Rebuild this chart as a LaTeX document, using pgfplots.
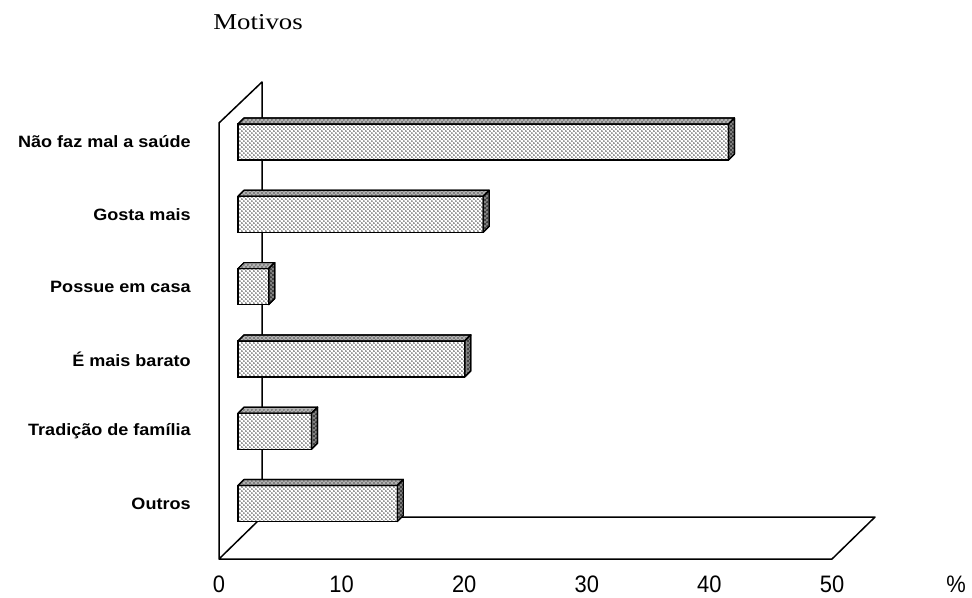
\documentclass[border=0pt]{standalone}
\usepackage{pgfplots}
\pgfplotsset{compat=1.18}
\usepackage{pgfplotstable}
\usepackage{fontspec}
\usetikzlibrary{patterns}
\setmainfont{Liberation Serif}
\newfontfamily\lblfont[FakeStretch=1.1]{Liberation Sans}
\newfontfamily\tickfont[FakeStretch=0.92]{Liberation Sans}
\newfontfamily\titlefont[FakeStretch=1.18]{Liberation Serif}

% stipple for the bar faces
\pgfdeclarepatternformonly{finedots}{\pgfqpoint{0pt}{0pt}}{\pgfqpoint{2.2pt}{2.2pt}}{\pgfqpoint{2.2pt}{2.2pt}}{%
  \pgfpathcircle{\pgfqpoint{0.55pt}{0.55pt}}{0.45pt}%
  \pgfpathcircle{\pgfqpoint{1.65pt}{1.65pt}}{0.45pt}%
  \pgfusepath{fill}}

\pgfplotstableread{
y val
5 40
4 20
3 2.5
2 18.5
1 6
0 13
}\motivos

\tikzset{
  topface/.style={fill=black!30, draw=black, line width=0.6pt, line join=round, mark=none,
    postaction={pattern=finedots, pattern color=black!70}},
  sideface/.style={fill=black!50, draw=black, line width=0.6pt, line join=round, mark=none,
    postaction={pattern=finedots, pattern color=black}},
}

\begin{document}
\begin{tikzpicture}
% floor and wall (1 unit = 1 px of the reference)
\begin{scope}[x=0.5pt,y=-0.5pt]
\path (0,0) rectangle (972,598);
\draw[line width=0.75pt, line join=round]
  (262,517) -- (262,82) -- (219,123) -- (219,559) -- (832,559)
  -- (875,517) -- (262,517) -- (219,559);
\node[anchor=base west, inner sep=0pt, font=\titlefont\fontsize{11.35pt}{13pt}\selectfont]
  at (213,30) {Motivos};
\node[anchor=north, inner sep=0pt, font=\tickfont\fontsize{11.9pt}{13pt}\selectfont]
  at (956,576) {\%};
\end{scope}

\begin{axis}[
  at={(119pt,-269.5pt)}, anchor=south west,
  scale only axis, width=306.5pt, height=217.5pt,
  xmin=0, xmax=50, ymin=-0.491, ymax=5.526,
  axis line style={draw=none}, major tick length=0pt,
  xtick={0,10,...,50}, ytick={0,...,5},
  yticklabels={Outros, Tradição de família, É mais barato, Possue em casa, Gosta mais, Não faz mal a saúde},
  /pgf/number format/assume math mode=true,
  xticklabel style={anchor=north, inner sep=0pt, xshift=-9.5pt, yshift=-18pt,
    font=\tickfont\fontsize{11.9pt}{13pt}\selectfont},
  yticklabel style={anchor=east, inner sep=0pt, xshift=-23.5pt,
    font=\lblfont\bfseries\fontsize{8.2pt}{9.5pt}\selectfont},
  clip=false,
]
\addplot[xbar, bar width=18pt, bar shift=0pt, draw=black, line width=0.6pt,
  fill=white, postaction={pattern=finedots, pattern color=black!80}]
  table[x=val, y=y] {\motivos};

\pgfplotsforeachungrouped \i in {0,...,5}{%
  \pgfplotstablegetelem{\i}{val}\of\motivos \let\v\pgfplotsretval
  \pgfplotstablegetelem{\i}{y}\of\motivos \let\yy\pgfplotsretval
  \pgfmathsetmacro\vd{\v+0.49}%
  \pgfmathsetmacro\yt{\yy+0.249}%
  \pgfmathsetmacro\ytd{\yy+0.332}%
  \pgfmathsetmacro\yb{\yy-0.249}%
  \pgfmathsetmacro\ybd{\yy-0.166}%
  \edef\temp{%
    \noexpand\addplot[topface] coordinates {(0,\yt) (\v,\yt) (\vd,\ytd) (0.49,\ytd)} -- cycle;
    \noexpand\addplot[sideface] coordinates {(\v,\yb) (\v,\yt) (\vd,\ytd) (\vd,\ybd)} -- cycle;
  }\temp
}
\end{axis}
\end{tikzpicture}
\end{document}
